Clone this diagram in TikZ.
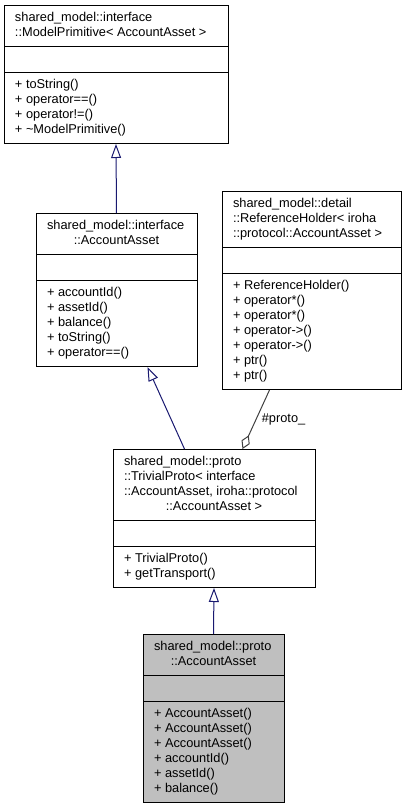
\documentclass[tikz,border=0pt]{standalone}
\usepackage{fontspec}
\setmainfont{Liberation Sans}
\usetikzlibrary{shapes.multipart, arrows.meta}
\definecolor{edgeblue}{HTML}{191970}
\definecolor{aggrgray}{HTML}{404040}
\definecolor{currentgray}{HTML}{BFBFBF}
\newcommand{\lastln}[1]{\hspace*{\fill}#1\hspace*{\fill}}

\begin{document}
\begin{tikzpicture}[x=1pt,y=-1pt,
  umlclass/.style={rectangle split, rectangle split parts=3, draw=black, line width=1pt,
    fill=white, anchor=north, align=flush left, inner xsep=11pt, inner ysep=5pt,
    font=\fontsize{12.8}{15}\selectfont},
  inherit/.style={draw=edgeblue, line width=1pt, -{Triangle[open,length=14pt,width=10pt]}},
  aggr/.style={draw=aggrgray, line width=1pt, -{Diamond[open,length=15pt,width=9pt]}}]

\useasboundingbox (0,0) rectangle (406,804);

% Classes
\node[umlclass, text width=202pt] (modelprim) at (116,5)
  {\strut shared\_model::interface\\::ModelPrimitive< AccountAsset >\strut
   \nodepart{two}\strut
   \nodepart{three}\strut + toString()\\+ operator==()\\+ operator!=()\\+ \textasciitilde ModelPrimitive()\strut};

\node[umlclass, text width=139pt] (acctiface) at (116.5,213)
  {\strut shared\_model::interface\\\lastln{::AccountAsset}\strut
   \nodepart{two}\strut
   \nodepart{three}\strut + accountId()\\+ assetId()\\+ balance()\\+ toString()\\+ operator==()\strut};

\node[umlclass, text width=157pt] (refholder) at (311.5,191)
  {\strut shared\_model::detail\\::ReferenceHolder< iroha\\::protocol::AccountAsset >\strut
   \nodepart{two}\strut
   \nodepart{three}\strut + ReferenceHolder()\\+ operator*()\\+ operator*()\\+ operator->()\\+ operator->()\\+ ptr()\\+ ptr()\strut};

\node[umlclass, text width=180pt] (trivial) at (214,449)
  {\strut shared\_model::proto\\::TrivialProto< interface\\::AccountAsset, iroha::protocol\\\lastln{::AccountAsset >}\strut
   \nodepart{two}\strut
   \nodepart{three}\strut + TrivialProto()\\+ getTransport()\strut};

\node[umlclass, text width=119pt, fill=currentgray] (acctproto) at (213.5,634)
  {\strut shared\_model::proto\\\lastln{::AccountAsset}\strut
   \nodepart{two}\strut
   \nodepart{three}\strut + AccountAsset()\\+ AccountAsset()\\+ AccountAsset()\\+ accountId()\\+ assetId()\\+ balance()\strut};

% Inheritance
\draw[inherit] (acctiface.north) -- (modelprim.south);
\draw[inherit] ([xshift=72pt]trivial.north west) -- ([xshift=112pt]acctiface.south west);
\draw[inherit] (acctproto.north) -- (trivial.south);

% Member
\draw[aggr] ([xshift=48pt]refholder.south west) -- node[right, pos=0.5, xshift=2pt, text=black, font=\fontsize{12.8}{15}\selectfont] (protolbl) {\#proto\_} ([xshift=130pt]trivial.north west);

\end{tikzpicture}
\end{document}
